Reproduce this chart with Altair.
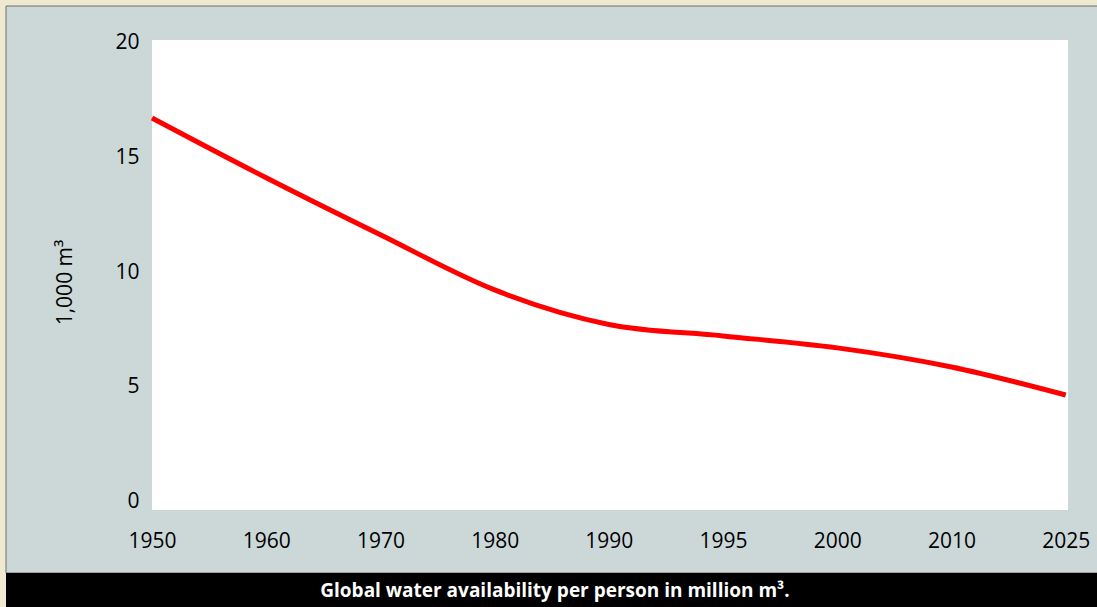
import altair as alt
import pandas as pd

# Data
years = ["1950", "1960", "1970", "1980", "1990", "1995", "2000", "2010", "2025"]
water_per_person = [16.70, 14.10, 11.62, 9.22, 7.72, 7.22, 6.70, 5.87, 4.65]
y_ticks = [0, 5, 10, 15, 20]
caption = "Global water availability per person in million m³."
y_title = "1,000 m³"

df = pd.DataFrame({"idx": list(range(len(years))), "value": water_per_person})
one = pd.DataFrame({"k": [0]})

W, H = 916, 470
FONT = "Open Sans"

label_expr = "[" + ",".join("'%s'" % y for y in years) + "][round(datum.value)]"

panel = alt.Chart(one).mark_rect(fill="#ccd8d8", stroke="#6e6e6e", strokeWidth=1).encode(
    x=alt.value(-146), x2=alt.value(960), y=alt.value(-34), y2=alt.value(533)
)
plot_bg = alt.Chart(one).mark_rect(fill="white").encode(
    x=alt.value(0), x2=alt.value(W), y=alt.value(0), y2=alt.value(H)
)
bar = alt.Chart(one).mark_rect(fill="black").encode(
    x=alt.value(-146), x2=alt.value(960), y=alt.value(533), y2=alt.value(580)
)
cap = alt.Chart(one).mark_text(
    text=caption, color="white", font=FONT, fontSize=19, fontWeight="bold",
    align="center", baseline="middle"
).encode(x=alt.value(403), y=alt.value(551))

line = alt.Chart(df).mark_line(color="#ff0000", strokeWidth=5, interpolate="monotone").encode(
    x=alt.X("idx:Q", scale=alt.Scale(domain=[0, 8.02], nice=False, zero=False),
            axis=alt.Axis(values=list(range(len(years))), labelExpr=label_expr, title=None,
                          grid=False, domain=False, ticks=False, labelFontSize=21,
                          labelFont=FONT, labelColor="black", labelPadding=31,
                          labelBaseline="middle", labelFlush=False, zindex=2)),
    y=alt.Y("value:Q", scale=alt.Scale(domain=[-0.35, 20.09], nice=False, zero=False),
            axis=alt.Axis(values=y_ticks, title=y_title, grid=False, domain=False, ticks=False,
                          labelFontSize=21, labelFont=FONT, labelColor="black",
                          labelPadding=13, labelFlush=False,
                          titleFont=FONT, titleFontSize=21, titleFontWeight="normal",
                          titleColor="black", titleAngle=270, titleAlign="center",
                          titleBaseline="middle", titleX=-87, titleY=242, zindex=2)),
)

chart = alt.layer(panel, plot_bg, bar, cap, line).properties(
    width=W, height=H,
    autosize=alt.AutoSizeParams(type="none"),
    padding={"left": 152, "top": 40, "right": 29, "bottom": 97},
    background="#efe9d2",
).configure_view(stroke=None)

chart.save("out.html", embed_options={"renderer": "svg", "actions": False})
